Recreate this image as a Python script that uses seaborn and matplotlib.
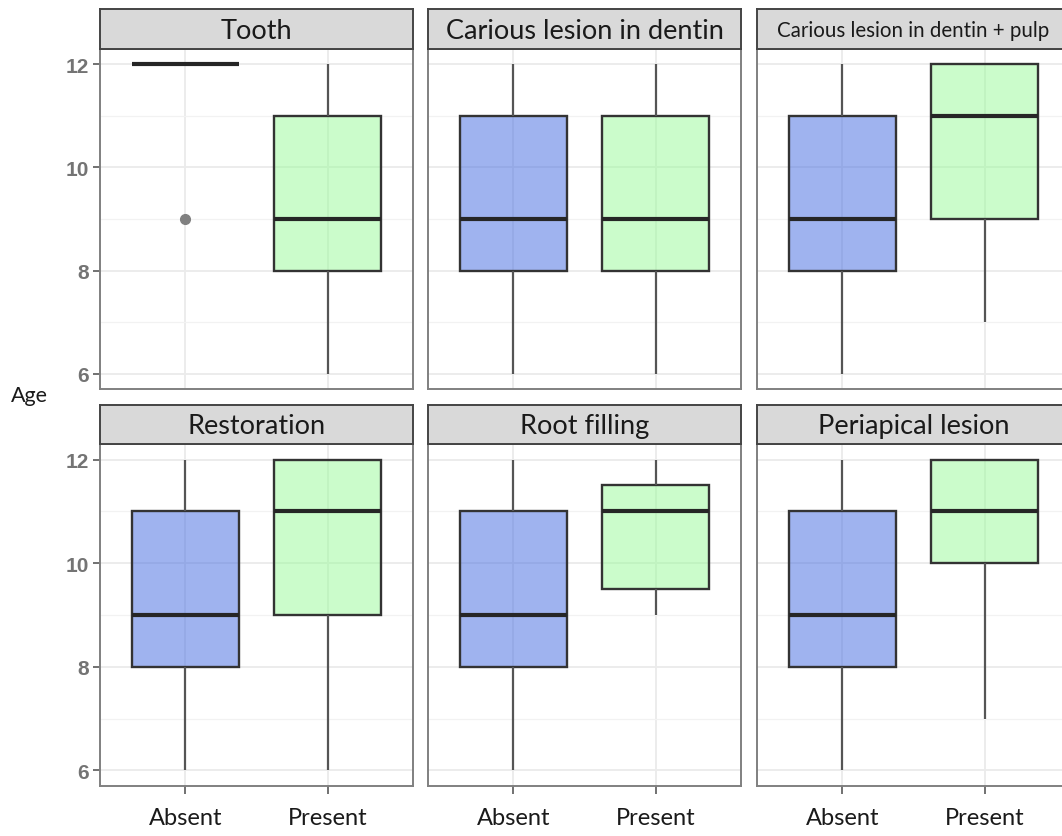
import matplotlib
matplotlib.use("Agg")
import matplotlib.pyplot as plt
import numpy as np
import pandas as pd
import seaborn as sns

# Facet titles, in reading order (two rows of three)
conditions = [
    "Tooth",
    "Carious lesion in dentin",
    "Carious lesion in dentin + pulp",
    "Restoration",
    "Root filling",
    "Periapical lesion",
]
status_levels = ["Absent", "Present"]

# Ages per facet for each status (min, Q1, median, Q3, max profiles)
absent_ages = [
    [9, 12, 12, 12, 12],
    [6, 8, 9, 11, 12],
    [6, 8, 9, 11, 12],
    [6, 8, 9, 11, 12],
    [6, 8, 9, 11, 12],
    [6, 8, 9, 11, 12],
]
present_ages = [
    [6, 8, 9, 11, 12],
    [6, 8, 9, 11, 12],
    [7, 9, 11, 12, 12],
    [6, 9, 11, 12, 12],
    [9, 9.5, 11, 11.5, 12],
    [7, 10, 11, 12, 12],
]
y_ticks = [6, 8, 10, 12]
y_minor = [7, 9, 11]

rows = []
for cond, a_vals, p_vals in zip(conditions, absent_ages, present_ages):
    rows += [(cond, "Absent", v) for v in a_vals]
    rows += [(cond, "Present", v) for v in p_vals]
df = pd.DataFrame(rows, columns=["condition", "status", "age"])

sns.set_theme(style="white")
plt.rcParams["font.family"] = ["Lato", "DejaVu Sans"]

W, H = 1062, 837
fig = plt.figure(figsize=(W / 100, H / 100), dpi=100)
fig.patch.set_facecolor("white")


def rect(x0, y0, x1, y1):
    return [x0 / W, 1 - y1 / H, (x1 - x0) / W, (y1 - y0) / H]


col_left = [100, 428, 757]
panel_w = 313
row_geom = [(10, 50, 390), (406, 445, 787)]  # strip top, strip bottom / plot top, plot bottom
palette = {"Absent": "royalblue", "Present": "palegreen"}
strip_sizes = [19.5, 19.5, 14.8, 19.5, 19.5, 19.5]

for i, cond in enumerate(conditions):
    r, c = divmod(i, 3)
    st, sb, pb = row_geom[r]
    x0 = col_left[c]
    ax = fig.add_axes(rect(x0, sb, x0 + panel_w, pb))
    sax = fig.add_axes(rect(x0, st, x0 + panel_w, sb))

    sub = df[df["condition"] == cond]
    sns.boxplot(
        data=sub, x="status", y="age", hue="status",
        order=status_levels, hue_order=status_levels,
        palette=palette, saturation=1, width=0.75, showcaps=False,
        linecolor="#333333", linewidth=1.7, legend=False, ax=ax,
        whiskerprops=dict(color="#555555", linewidth=1.6),
        medianprops=dict(color="#262626", linewidth=3.0),
        flierprops=dict(marker="o", markersize=7, markerfacecolor="#808080",
                        markeredgecolor="#808080"),
    )
    for patch in ax.patches:
        fc = patch.get_facecolor()
        patch.set_facecolor((fc[0], fc[1], fc[2], 0.5))

    ax.set_xlim(-0.6, 1.6)
    ax.set_ylim(5.7, 12.3)
    ax.set_yticks(y_ticks)
    ax.set_yticks(y_minor, minor=True)
    ax.set_axisbelow(True)
    ax.grid(which="major", color="#ebebeb", linewidth=1.3)
    ax.grid(which="minor", axis="y", color="#f2f2f2", linewidth=0.9)
    ax.set_xlabel("")
    ax.set_ylabel("")
    for sp in ax.spines.values():
        sp.set_color("#808080")
        sp.set_linewidth(1.4)

    ax.tick_params(axis="y", which="minor", left=False)
    if c == 0:
        ax.tick_params(axis="y", which="major", left=True, length=5, width=1.3,
                       color="#666666", labelsize=15, labelcolor="#747474", pad=3)
        for lbl in ax.get_yticklabels():
            lbl.set_fontfamily("Liberation Sans")
            lbl.set_fontweight("bold")
    else:
        ax.tick_params(axis="y", left=False, labelleft=False)
    if r == 1:
        ax.tick_params(axis="x", bottom=True, length=6, width=1.3, color="#666666",
                       labelsize=17, labelcolor="#1a1a1a", pad=9)
    else:
        ax.tick_params(axis="x", bottom=False, labelbottom=False)

    sax.set_facecolor("#d9d9d9")
    sax.set_xticks([])
    sax.set_yticks([])
    for sp in sax.spines.values():
        sp.set_color("#444444")
        sp.set_linewidth(1.4)
    sax.text(0.5, 0.47, cond, transform=sax.transAxes, ha="center", va="center",
             fontsize=strip_sizes[i], color="#1a1a1a")

fig.text(29 / W, 1 - 396 / H, "Age", ha="center", va="center",
         fontsize=15.5, color="#1a1a1a")

fig.savefig("out.png", dpi=100)
